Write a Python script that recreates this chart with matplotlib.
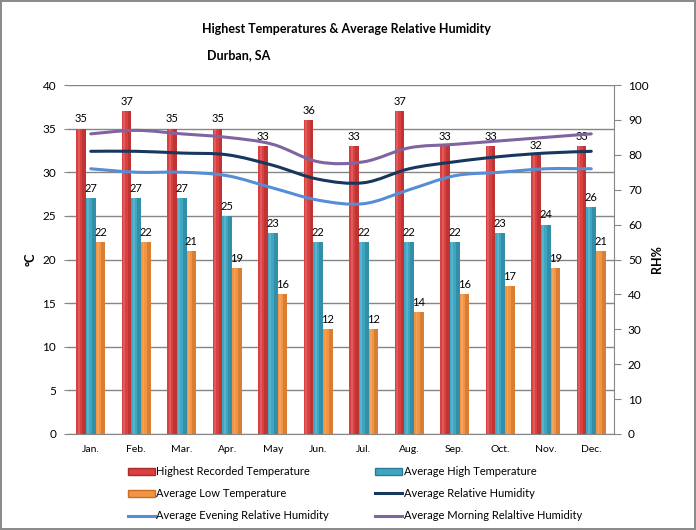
import numpy as np
import matplotlib
matplotlib.use("Agg")
import matplotlib.pyplot as plt
from matplotlib.path import Path
from matplotlib.patches import PathPatch, Patch
from matplotlib.lines import Line2D

plt.rcParams['font.family'] = ['Lato', 'DejaVu Sans']

months = ["Jan.", "Feb.", "Mar.", "Apr.", "May", "Jun.", "Jul.", "Aug.", "Sep.", "Oct.", "Nov.", "Dec."]
highest_recorded = [35, 37, 35, 35, 33, 36, 33, 37, 33, 33, 32, 33]
avg_high = [27, 27, 27, 25, 23, 22, 22, 22, 22, 23, 24, 26]
avg_low = [22, 22, 21, 19, 16, 12, 12, 14, 16, 17, 19, 21]
avg_rh = [81, 81, 80.5, 80, 77, 73, 72, 76, 78, 79.5, 80.5, 81]
evening_rh = [76, 75, 75, 74, 70.5, 67, 66, 70, 74, 75, 76, 76]
morning_rh = [86, 87, 86, 85, 83, 78, 78, 82, 83, 84, 85, 86]

W, H = 696, 530
fig = plt.figure(figsize=(W / 100, H / 100), dpi=100)
fig.patch.set_facecolor('white')
fig.patch.set_edgecolor('#8c8c8c')
fig.patch.set_linewidth(1.5)

ax = fig.add_axes([68 / W, 1 - 434 / H, (614 - 68) / W, (434 - 85) / H])
ax2 = ax.twinx()

x = np.arange(len(months))
bw = 0.213
grid_c = '#868686'

series = [
    (highest_recorded, -bw, '#d9403f', '#a82c2c', 'Highest Recorded Temperature'),
    (avg_high, 0.0, '#3fa6c2', '#2a7d94', 'Average High Temperature'),
    (avg_low, bw, '#f39443', '#c56f27', 'Average Low Temperature'),
]
for vals, off, c, dc, lab in series:
    ax.bar(x + off, vals, bw, color=c, zorder=3, linewidth=0)
    ax.bar(x + off + bw * 0.3, vals, bw * 0.4, color=dc, zorder=3.1, linewidth=0, alpha=0.55)
    ax.bar(x + off - bw * 0.25, vals, bw * 0.2, color='white', zorder=3.2, linewidth=0, alpha=0.15)
    for xi, v in zip(x + off, vals):
        ax.annotate(str(v), (xi, v), xytext=(0, 3), textcoords='offset points',
                    ha='center', va='bottom', fontsize=8, color='#000000', zorder=6)

ax.set_xlim(-0.5, len(months) - 0.5)
ax.set_ylim(0, 40)
ax.set_yticks(np.arange(0, 41, 5))
ax.yaxis.grid(True, color=grid_c, linewidth=1)
ax.set_axisbelow(True)
ax.set_xticks(x)
ax.set_xticklabels(months, fontsize=7.5)
ax.tick_params(axis='x', length=0, pad=8)
ax.tick_params(axis='y', length=3, color=grid_c, labelsize=8.5, pad=5.5)
for s in ['left', 'top', 'right']:
    ax.spines[s].set_visible(False)
ax.spines['bottom'].set_color(grid_c)
ax.set_ylabel('°C', fontsize=9, fontweight='bold', labelpad=4)


def smooth_path(xs, ys):
    pts = np.column_stack([xs, ys]).astype(float)
    n = len(pts)
    verts = [pts[0]]
    codes = [Path.MOVETO]
    for i in range(n - 1):
        p0 = pts[i - 1] if i > 0 else pts[i]
        p1 = pts[i]
        p2 = pts[i + 1]
        p3 = pts[i + 2] if i + 2 < n else pts[i + 1]
        c1 = p1 + (p2 - p0) / 6.0
        c2 = p2 - (p3 - p1) / 6.0
        verts += [c1, c2, p2]
        codes += [Path.CURVE4] * 3
    return Path(verts, codes)


lines = [
    (avg_rh, '#17375e', 'Average Relative Humidity'),
    (evening_rh, '#558ed5', 'Average Evening Relative Humidity'),
    (morning_rh, '#8064a2', 'Average Morning Relaltive Humidity'),
]
for vals, c, lab in lines:
    ax2.add_patch(PathPatch(smooth_path(x, vals), facecolor='none', edgecolor=c,
                            linewidth=2.2, zorder=5, capstyle='round'))

ax2.set_ylim(0, 100)
ax2.set_yticks(np.arange(0, 101, 10))
ax2.tick_params(axis='y', length=5, color=grid_c, labelsize=8.5, pad=5)
for s in ['left', 'top', 'bottom']:
    ax2.spines[s].set_visible(False)
ax2.spines['right'].set_color(grid_c)
ax2.set_ylabel('RH%', fontsize=9, fontweight='bold', labelpad=2)

fig.text(346 / W, 1 - 29 / H, 'Highest Temperatures & Average Relative Humidity',
         ha='center', va='center', fontsize=9, fontweight='bold')
fig.text(207 / W, 1 - 55 / H, 'Durban, SA', ha='left', va='center', fontsize=9, fontweight='bold')

h_red = Patch(facecolor='#d9403f', edgecolor='#a82c2c')
h_teal = Patch(facecolor='#3fa6c2', edgecolor='#2a7d94')
h_or = Patch(facecolor='#f39443', edgecolor='#c56f27')
h_avg = Line2D([], [], color='#17375e', linewidth=2.2)
h_eve = Line2D([], [], color='#558ed5', linewidth=2.2)
h_mor = Line2D([], [], color='#8064a2', linewidth=2.2)
handles = [h_red, h_or, h_eve, h_teal, h_avg, h_mor]
labels = ['Highest Recorded Temperature', 'Average Low Temperature', 'Average Evening Relative Humidity',
          'Average High Temperature', 'Average Relative Humidity', 'Average Morning Relaltive Humidity']
fig.legend(handles, labels, ncol=2, loc='upper left', bbox_to_anchor=(128 / W, 1 - 466 / H),
           frameon=False, fontsize=8, handlelength=2.4, handleheight=0.6, handletextpad=0.15,
           columnspacing=4.15, labelspacing=1.0, borderpad=0, borderaxespad=0)

fig.savefig('out.png', dpi=100, facecolor=fig.get_facecolor(), edgecolor=fig.get_edgecolor())
